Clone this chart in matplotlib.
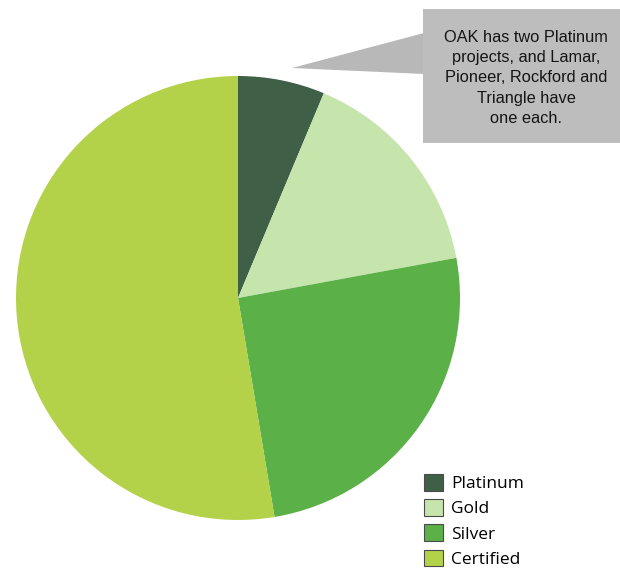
import matplotlib
matplotlib.use("Agg")
import matplotlib.pyplot as plt
from matplotlib.patches import Rectangle, Polygon

categories = ["Platinum", "Gold", "Silver", "Certified"]
values = [6, 15, 24, 50]
colors = ["#3f5f47", "#c6e5ad", "#5cb048", "#b3d24a"]
callout_text = "OAK has two Platinum\nprojects, and Lamar,\nPioneer, Rockford and\nTriangle have\none each."

W, H = 620, 576
fig = plt.figure(figsize=(W / 100, H / 100), dpi=100)
fig.patch.set_facecolor("white")

# pie axes (pixel box: x 16-460, y 76-520)
ax = fig.add_axes([16 / W, (H - 520) / H, 444 / W, 444 / H])
wedges, _ = ax.pie(values, colors=colors, startangle=90, counterclock=False,
                   radius=1.0, wedgeprops=dict(linewidth=0))
ax.set_xlim(-1, 1)
ax.set_ylim(-1, 1)
ax.set_aspect("equal")
ax.axis("off")

# overlay axes in pixel coordinates for callout
ov = fig.add_axes([0, 0, 1, 1], zorder=5)
ov.set_xlim(0, W)
ov.set_ylim(H, 0)
ov.axis("off")
ov.patch.set_alpha(0)
ov.add_patch(Polygon([[292, 68], [424, 33], [424, 74]], closed=True,
                     facecolor="#b8b8b8", edgecolor="none"))
ov.add_patch(Rectangle((423, 9), 197, 134, facecolor="#bdbdbd", edgecolor="none"))
ov.text(526, 78, callout_text, ha="center", va="center", multialignment="center",
        fontsize=11.8, family="Liberation Sans", color="#151515", linespacing=1.42)

leg = fig.legend(wedges, categories, loc="upper left",
                 bbox_to_anchor=(424 / W, 1 - 474 / H), frameon=False,
                 prop=dict(family="Open Sans", size=12.5),
                 handlelength=1.1, handleheight=1.1, handletextpad=0.45,
                 labelspacing=0.4, borderaxespad=0, borderpad=0)
for h in leg.legend_handles:
    h.set_edgecolor("#4a4a4a")
    h.set_linewidth(0.8)

fig.savefig("out.png", dpi=100, facecolor="white")
